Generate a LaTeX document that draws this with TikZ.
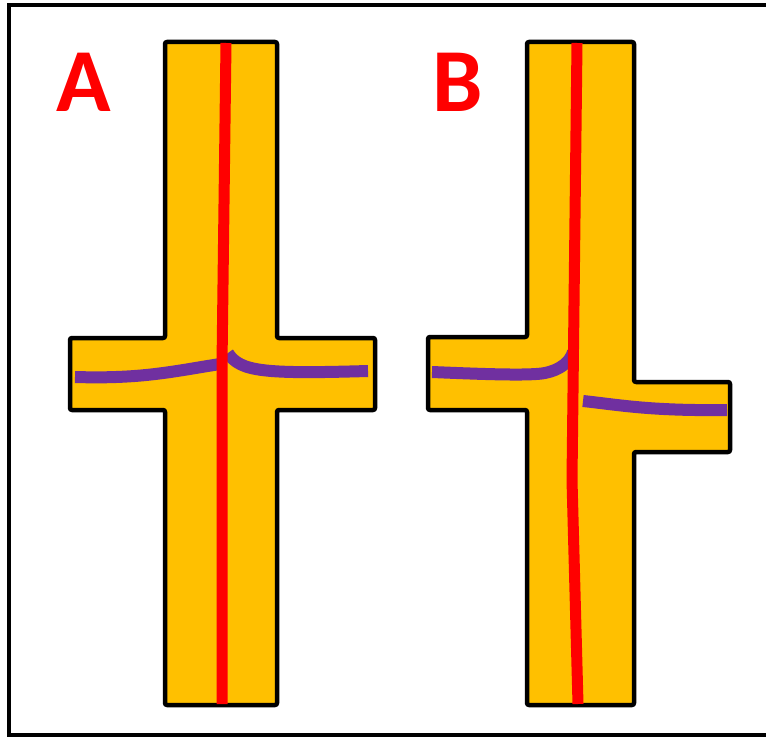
\documentclass[tikz,border=0pt]{standalone}
\usepackage{fontspec}
\setmainfont{Carlito}
\definecolor{barfill}{HTML}{FFC000}
\definecolor{redline}{HTML}{FF0000}
\definecolor{purpline}{HTML}{7030A0}
\begin{document}
\begin{tikzpicture}[x=1pt,y=-1pt,
  crossbody/.style={fill=barfill,draw=black,line width=4.5pt,rounded corners=2pt,line join=round},
  redwire/.style={draw=redline,line width=11pt},
  purpwire/.style={draw=purpline,line width=12pt},
  letter/.style={text=redline,font=\bfseries\fontsize{90}{90}\selectfont,anchor=base,inner sep=0pt}]
\useasboundingbox (0,0) rectangle (766,738);
\begin{scope}
\clip (0,0) rectangle (766,738);
\draw[line width=4.5pt] (9,5) rectangle (790,735);
\end{scope}
% cross A
\draw[crossbody] (165,42) -- (277,42) -- (277,338) -- (375,338) -- (375,410) -- (277,410) -- (277,705) -- (165,705) -- (165,410) -- (70,410) -- (70,338) -- (165,338) -- cycle;
% cross B
\draw[crossbody] (527,42) -- (634,42) -- (634,382) -- (730,382) -- (730,452) -- (634,452) -- (634,705) -- (527,705) -- (527,410) -- (428,410) -- (428,337) -- (527,337) -- cycle;
% purple wires A
\coordinate (pa1) at (75,377);
\coordinate (pa2) at (220,364);
\coordinate (pa3) at (228,353);
\coordinate (pa4) at (368,371);
\draw[purpwire] (pa1) .. controls (140,379) and (170,372) .. (pa2);
\draw[purpwire] (pa3) .. controls (240,372) and (265,374) .. (pa4);
% purple wires B
\coordinate (pb1) at (432,372);
\coordinate (pb2) at (573,352);
\coordinate (pb3) at (583,401);
\coordinate (pb4) at (727,410);
\draw[purpwire] (pb1) .. controls (480,374) and (530,376) .. (545,373) .. controls (560,370) and (570,362) .. (pb2);
\draw[purpwire] (pb3) .. controls (620,405) and (650,411) .. (pb4);
% red wires
\coordinate (ra1) at (226,43);
\coordinate (ra2) at (222,365);
\coordinate (ra3) at (222,704);
\draw[redwire] (ra1) -- (ra2) -- (222,480) -- (ra3);
\coordinate (rb1) at (577,43);
\coordinate (rb2) at (572,480);
\coordinate (rb3) at (578,704);
\draw[redwire] (rb1) -- (rb2) -- (rb3);
% letters
\node[letter] (la) at (84,112) {A};
\node[letter] (lb) at (458,112) {B};
\end{tikzpicture}
\end{document}
